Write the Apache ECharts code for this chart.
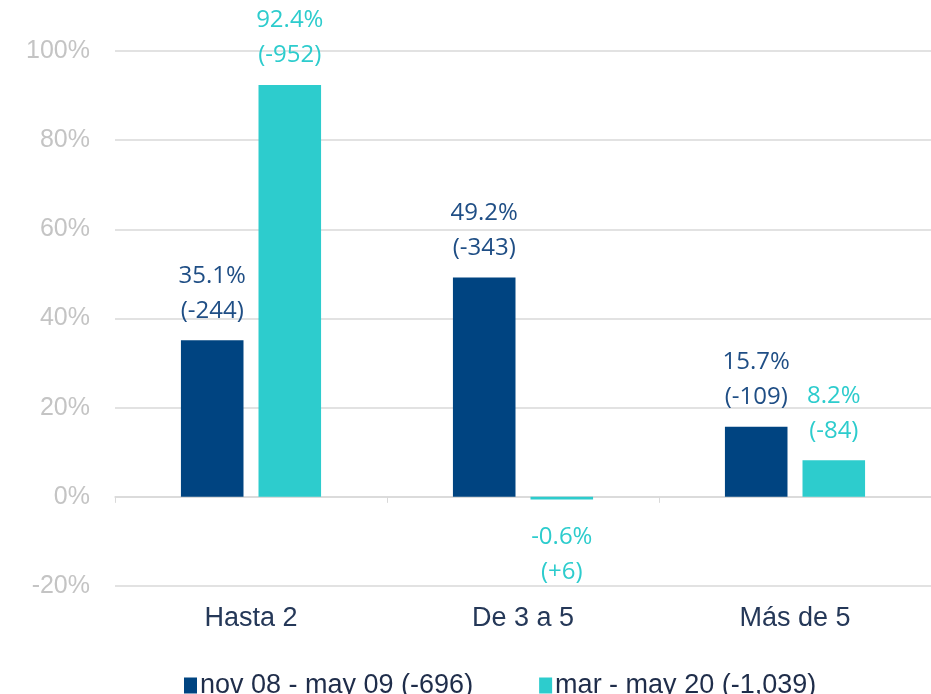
<!DOCTYPE html>
<html>
<head>
<meta charset="utf-8">
<script src="https://cdn.jsdelivr.net/npm/echarts@6/dist/echarts.min.js"></script>
<style>
  html, body { margin: 0; padding: 0; background: #fff; }
  #chart { width: 931px; height: 694px; }
</style>
</head>
<body>
<div id="chart"></div>
<script>
  // categorías
  var categories = ['Hasta 2', 'De 3 a 5', 'Más de 5']
  // series
  var legendNames = ['nov 08 - may 09 (-696)', 'mar - may 20 (-1,039)']
  var pctOld = [35.1, 49.2, 15.7]
  var cntOld = ['-244', '-343', '-109']
  var pctNew = [92.4, -0.6, 8.2]
  var cntNew = ['-952', '+6', '-84']

  var axisFont = '"Liberation Sans", Arial, sans-serif'
  var labelFont = '"Open Sans", "Noto Sans", sans-serif'

  function buildData(pcts, cnts) {
    return pcts.map(function (v, i) {
      var item = { value: v, cnt: cnts[i] }
      if (v < 0) item.label = { position: 'bottom', distance: 20 }
      return item
    })
  }

  function fmt(p) {
    return p.value.toFixed(1) + '%\n(' + p.data.cnt + ')'
  }

  var myChart = echarts.init(document.getElementById('chart'))
  myChart.setOption({
    animation: false,
    grid: { left: 115, right: 0, top: 51, bottom: 108 },
    legend: {
      data: legendNames,
      left: 179,
      top: 667,
      icon: 'rect',
      itemWidth: 13,
      itemHeight: 16,
      itemGap: 66,
      textStyle: { fontFamily: axisFont, fontSize: 27, color: '#1f2d4a', padding: [0, 0, 0, -2] }
    },
    xAxis: [
      {
        type: 'category',
        data: categories,
        axisLine: { onZero: true, lineStyle: { color: '#d9d9d9', width: 1.5 } },
        axisTick: { show: true, length: 6, lineStyle: { color: '#d9d9d9' } },
        axisLabel: { show: false }
      },
      {
        type: 'category',
        data: categories,
        position: 'bottom',
        axisLine: { show: false, onZero: false },
        axisTick: { show: false },
        axisLabel: { margin: 19, fontFamily: axisFont, fontSize: 27, color: '#253858' }
      }
    ],
    yAxis: {
      type: 'value',
      min: -20,
      max: 100,
      interval: 20,
      axisLine: { show: false },
      axisTick: { show: false },
      axisLabel: { formatter: '{value}%', margin: 25, fontFamily: axisFont, fontSize: 25, color: '#c4c4c4' },
      splitLine: { lineStyle: { color: '#d9d9d9', width: 1.5 } }
    },
    series: [
      {
        name: legendNames[0],
        type: 'bar',
        xAxisIndex: 0,
        barWidth: '23%',
        barGap: '24%',
        itemStyle: { color: '#004481' },
        label: {
          show: true,
          position: 'top',
          distance: 12,
          formatter: fmt,
          fontFamily: labelFont,
          fontSize: 24,
          lineHeight: 35,
          color: '#1f4e85'
        },
        data: buildData(pctOld, cntOld)
      },
      {
        name: legendNames[1],
        type: 'bar',
        xAxisIndex: 0,
        barWidth: '23%',
        itemStyle: { color: '#2dcccd' },
        label: {
          show: true,
          position: 'top',
          distance: 12,
          formatter: fmt,
          fontFamily: labelFont,
          fontSize: 24,
          lineHeight: 35,
          color: '#2dcccd'
        },
        data: buildData(pctNew, cntNew)
      }
    ]
  })
</script>
</body>
</html>
